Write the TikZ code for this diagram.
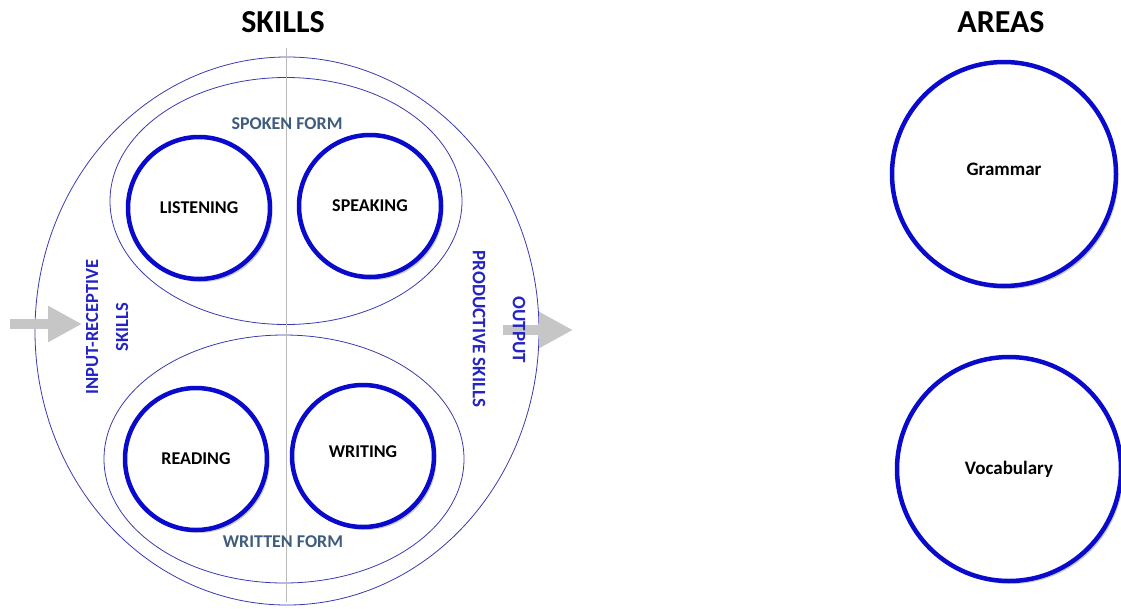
\documentclass[tikz,border=0pt]{standalone}
\usepackage{fontspec}
\setmainfont{Carlito}
\usetikzlibrary{shapes.geometric, shadows, arrows.meta}

\definecolor{ringblue}{HTML}{0A0ACC}
\definecolor{lineblue}{HTML}{3A3AB0}
\definecolor{formblue}{HTML}{3D5C7E}
\definecolor{sideblue}{HTML}{2424C4}

\begin{document}
\begin{tikzpicture}[x=1pt, y=-1pt]
	% node styles
	\tikzstyle{skill} = [circle, draw=ringblue, line width=4.5pt, fill=white, minimum size=142pt, inner sep=0pt, drop shadow={shadow xshift=2.5pt, shadow yshift=-3pt, opacity=0.4}, font=\fontsize{18}{20}\selectfont\bfseries]
	\tikzstyle{area} = [skill, minimum size=224pt, font=\fontsize{19}{21}\selectfont\bfseries]
	\tikzstyle{form} = [ellipse, draw=lineblue, line width=0.8pt, inner sep=0pt]
	\tikzstyle{title} = [font=\fontsize{32}{34}\selectfont\bfseries]
	\tikzstyle{formlabel} = [text=formblue, font=\fontsize{18}{20}\selectfont\bfseries]
	\tikzstyle{side} = [text=sideblue, align=center, font=\fontsize{19}{21}\selectfont\bfseries]
	\tikzstyle{flow} = [line width=10pt, draw=gray!45, -{Triangle[length=34pt,width=34pt]}]

	\useasboundingbox (0,0) rectangle (1121,608);

	% titles
	\node [title] (skillstitle) at (283,22) {SKILLS};
	\node [title] (areastitle) at (1001,22) {AREAS};

	% ellipses and axis
	\node [form, minimum width=504pt, minimum height=548pt] (skills) at (287,331) {};
	\node [form, minimum width=352pt, minimum height=247pt] (spoken) at (286,201) {};
	\node [form, minimum width=360pt, minimum height=248pt] (written) at (284,459) {};
	\coordinate (axistop) at (286,48);
	\coordinate (axisbot) at (286,602);
	\draw [gray!55, line width=0.8pt] (axistop) -- (axisbot);

	% arrows
	\coordinate (instart) at (10,324);
	\coordinate (inend) at (82,324);
	\coordinate (outstart) at (503,330);
	\coordinate (outend) at (573,330);
	\draw [flow] (instart) -- (inend);
	\draw [flow] (outstart) -- (outend);

	% skill circles
	\node [skill] (listening) at (199,208) {LISTENING};
	\node [skill] (speaking) at (370,206) {SPEAKING};
	\node [skill] (reading) at (196,459) {READING};
	\node [skill, text depth=8pt] (writing) at (363,456) {WRITING};

	% form and side labels
	\node [formlabel] (spokenlabel) at (287,124) {SPOKEN FORM};
	\node [formlabel] (writtenlabel) at (283,542) {WRITTEN FORM};
	\node [side, rotate=90, font=\fontsize{18.5}{30}\selectfont\bfseries] (input) at (107,327) {INPUT-RECEPTIVE\\SKILLS};
	\node [side, rotate=-90] (productive) at (479,329) {PRODUCTIVE SKILLS};
	\node [side, rotate=-90] (output) at (519,330) {OUTPUT};

	% areas
	\node [area, text depth=10pt] (grammar) at (1004,174) {Grammar};
	\node [area] (vocabulary) at (1009,469) {Vocabulary};
\end{tikzpicture}
\end{document}
